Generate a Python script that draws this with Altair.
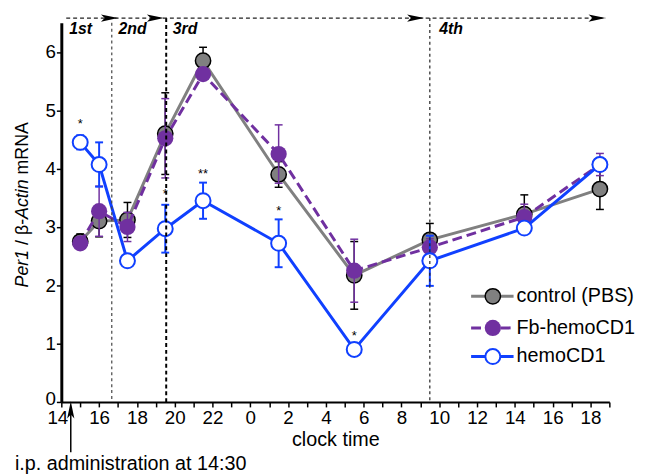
import altair as alt
import pandas as pd

# ---------------- data ----------------
times = [15, 16, 17.5, 19.5, 21.5, 25.5, 29.5, 33.5, 38.5, 42.5]

control_mean = [2.75, 3.10, 3.12, 4.60, 5.85, 3.90, 2.17, 2.78, 3.22, 3.65]
control_err = [0.13, 0.27, 0.30, 0.70, 0.23, 0.22, 0.58, 0.28, 0.33, 0.35]

fb_mean = [2.72, 3.27, 3.00, 4.52, 5.62, 4.25, 2.25, 2.65, 3.17, 4.07]
fb_err = [0.10, 0.43, 0.25, 0.68, 0.08, 0.50, 0.54, 0.15, 0.22, 0.19]

hemo_mean = [4.45, 4.07, 2.42, 2.97, 3.45, 2.72, 0.90, 2.42, 2.98, 4.07]
hemo_err = [0.12, 0.38, 0.10, 0.41, 0.31, 0.41, 0.05, 0.43, 0.08, 0.10]

star_times = [15, 19.5, 21.5, 25.5, 29.5]
star_values = [4.77, 3.57, 3.91, 3.28, 1.13]
star_labels = ["*", "*", "**", "*", "*"]

phase_labels = ["1st", "2nd", "3rd", "4th"]
phase_label_x = [14.42, 17.03, 19.9, 34.0]
phase_bounds = [16.67, 19.55, 33.5]
phase_top = 6.58
top_line = [14.26, 42.8]
arrow_x = [16.55, 18.98, 32.75, 42.35]
admin_time = 14.5

legend_labels = ["control (PBS)", "Fb-hemoCD1", "hemoCD1"]

x_ticks = list(range(14, 44))
y_ticks = [0, 1, 2, 3, 4, 5, 6]

FONT = "Liberation Sans"
GRAY = "#808080"
PURPLE = "#7030a0"
BLUE = "#1040ff"

W, H = 555, 384
xs = alt.Scale(domain=[14, 43], nice=False, zero=False)
ys = alt.Scale(domain=[0, 6.5], nice=False, zero=False)

X_AXIS = alt.Axis(
    values=x_ticks, tickSize=5, tickWidth=1.5, tickColor="black",
    domainColor="black", domainWidth=2, grid=False, format="d",
    labelExpr="datum.value % 2 == 0 ? '' + (datum.value % 24) : ''",
    labelFontSize=19, labelFont=FONT, labelColor="black", labelPadding=2,
    labelOffset={"condition": {"test": "datum.value == 14", "value": -4}, "value": 0},
    labelFlush=False, labelOverlap=False, labelBound=False,
    title="clock time", titleFontSize=20, titleFont=FONT,
    titleFontWeight="normal", titleColor="black", titlePadding=2)
Y_AXIS = alt.Axis(
    values=y_ticks, tickSize=5, tickWidth=1.5, tickColor="black",
    domainColor="black", domainWidth=3, grid=False, format="d",
    labelFontSize=19, labelFont=FONT, labelColor="black", labelPadding=1,
    labelOffset={"condition": {"test": "datum.value == 0", "value": -3}, "value": 0},
    labelOverlap=False, title=None)


def fx(field):
    return alt.X(field, scale=xs, axis=X_AXIS)


def fy(field):
    return alt.Y(field, scale=ys, axis=Y_AXIS)


def frame(mean, err):
    return pd.DataFrame({
        "t": times,
        "m": mean,
        "lo": [m - e for m, e in zip(mean, err)],
        "hi": [m + e for m, e in zip(mean, err)],
    })


def series(df, line_color, dash, fill, stroke, stroke_w, size, err_color, err_w):
    base = alt.Chart(df)
    lk = dict(color=line_color, strokeWidth=3)
    if dash:
        lk["strokeDash"] = dash
    line = base.mark_line(**lk).encode(x=fx("t:Q"), y=fy("m:Q"))
    rule = base.mark_rule(color=err_color, strokeWidth=err_w).encode(
        x=fx("t:Q"), y=fy("lo:Q"), y2="hi:Q")
    cap_hi = base.mark_tick(color=err_color, thickness=err_w, size=8,
                            orient="horizontal", opacity=1).encode(x=fx("t:Q"), y=fy("hi:Q"))
    cap_lo = base.mark_tick(color=err_color, thickness=err_w, size=8,
                            orient="horizontal", opacity=1).encode(x=fx("t:Q"), y=fy("lo:Q"))
    pk = dict(shape="circle", filled=True, fill=fill, size=size, opacity=1)
    if stroke:
        pk["stroke"] = stroke
        pk["strokeWidth"] = stroke_w
    else:
        pk["strokeWidth"] = 0
    pts = base.mark_point(**pk).encode(x=fx("t:Q"), y=fy("m:Q"))
    return [line, rule, cap_hi, cap_lo, pts]


CTRL_STYLE = (GRAY, None, GRAY, "black", 1.5, 240)
FB_STYLE = (PURPLE, [10, 5], PURPLE, None, 0, 270)
HEMO_STYLE = (BLUE, None, "white", BLUE, 2, 230)

layers = []
layers += series(frame(control_mean, control_err), *CTRL_STYLE, "black", 1.5)
layers += series(frame(fb_mean, fb_err), *FB_STYLE, PURPLE, 1.5)
layers += series(frame(hemo_mean, hemo_err), *HEMO_STYLE, BLUE, 2)

# significance stars
stars = alt.Chart(pd.DataFrame({"t": star_times, "v": star_values, "s": star_labels})).mark_text(
    fontSize=13, font=FONT, color="black", baseline="middle").encode(
    x=fx("t:Q"), y=fy("v:Q"), text="s:N")
layers.append(stars)

# phase boundaries
bdf = pd.DataFrame({"x": phase_bounds, "top": [6.5, phase_top, phase_top], "bot": [0, 0, 0],
                    "k": ["a", "b", "c"]})
bstyles = {"a": ("#444444", 1.2, [3, 3]), "b": ("black", 2, [4, 3]), "c": ("#222222", 1.2, [3, 3])}
for k, (c, w, d) in bstyles.items():
    layers.append(alt.Chart(bdf[bdf.k == k]).mark_rule(color=c, strokeWidth=w, strokeDash=d).encode(
        x=fx("x:Q"), y=fy("top:Q"), y2="bot:Q"))

# top dashed arrow line
tdf = pd.DataFrame({"x": [top_line[0]], "x2": [top_line[1]], "y": [phase_top]})
layers.append(alt.Chart(tdf).mark_rule(color="#222222", strokeWidth=1.2, strokeDash=[4, 3]).encode(
    x=fx("x:Q"), x2="x2:Q", y=fy("y:Q")))
adf = pd.DataFrame({"x": arrow_x, "y": [phase_top] * len(arrow_x)})
layers.append(alt.Chart(adf).mark_point(
    shape="M-1,-0.42L1,0L-1,0.42L-0.55,0Z", filled=True, fill="black", strokeWidth=0,
    size=300, opacity=1).encode(x=fx("x:Q"), y=fy("y:Q")))

# phase labels
pdf = pd.DataFrame({"x": phase_label_x, "y": [6.4] * 4, "s": phase_labels})
layers.append(alt.Chart(pdf).mark_text(fontSize=16, font=FONT, fontWeight="bold",
                                       fontStyle="italic", align="left", baseline="middle",
                                       color="black").encode(
    x=fx("x:Q"), y=fy("y:Q"), text="s:N"))

# administration arrow
ad = pd.DataFrame({"x": [admin_time], "s": ["i.p. administration at 14:30"]})
layers.append(alt.Chart(ad).mark_rule(color="black", strokeWidth=1.5).encode(
    x=fx("x:Q"), y=alt.value(392), y2=alt.value(435)))
layers.append(alt.Chart(ad).mark_point(
    shape="M0,-1L0.42,1L0,0.55L-0.42,1Z", filled=True, fill="black", strokeWidth=0,
    size=300, opacity=1).encode(x=fx("x:Q"), y=alt.value(392)))
layers.append(alt.Chart(ad).mark_text(fontSize=20, font=FONT, align="left", baseline="middle",
                                      color="black").encode(
    x=alt.value(-47), y=alt.value(447), text="s:N"))

# y-axis title in pieces (mixed italic)
ytitle = pd.DataFrame({
    "s": ["Per1", "/ β-", "Actin", "mRNA"],
    "y": [268, 225, 198.6, 153.6],
    "st": ["italic", "normal", "italic", "normal"],
})
for st in ["italic", "normal"]:
    layers.append(alt.Chart(ytitle[ytitle.st == st]).mark_text(
        fontSize=18, font=FONT, fontStyle=st, angle=270, align="left",
        baseline="alphabetic", color="black").encode(
        x=alt.value(-34), y=alt.Y("y:Q", scale=None), text="s:N"))

# manual legend
ldf = pd.DataFrame({"s": legend_labels, "y": [277, 309, 338]})
for i, (lc, dash, fill, stroke, sw, size) in enumerate([CTRL_STYLE, FB_STYLE, HEMO_STYLE]):
    row = ldf.iloc[[i]]
    rk = dict(color=lc, strokeWidth=3)
    if dash:
        rk["strokeDash"] = dash
    layers.append(alt.Chart(row).mark_rule(**rk).encode(
        x=alt.value(415), x2=alt.value(458), y=alt.Y("y:Q", scale=None)))
    pk = dict(shape="circle", filled=True, fill=fill, size=size, opacity=1)
    if stroke:
        pk["stroke"] = stroke
        pk["strokeWidth"] = sw
    else:
        pk["strokeWidth"] = 0
    layers.append(alt.Chart(row).mark_point(**pk).encode(
        x=alt.value(437), y=alt.Y("y:Q", scale=None)))
layers.append(alt.Chart(ldf).mark_text(fontSize=20, font=FONT, align="left",
                                       baseline="middle", color="black").encode(
    x=alt.value(461), y=alt.Y("y:Q", scale=None), text="s:N"))

chart = alt.layer(*layers).properties(
    width=W, height=H,
    autosize=alt.AutoSizeParams(type="none"),
    padding={"left": 54, "top": 12, "right": 28, "bottom": 71},
    background="white",
).configure_view(stroke=None).configure_axis(labelOverlap=False)

chart.save("out.html", embed_options={"renderer": "svg", "actions": False})
